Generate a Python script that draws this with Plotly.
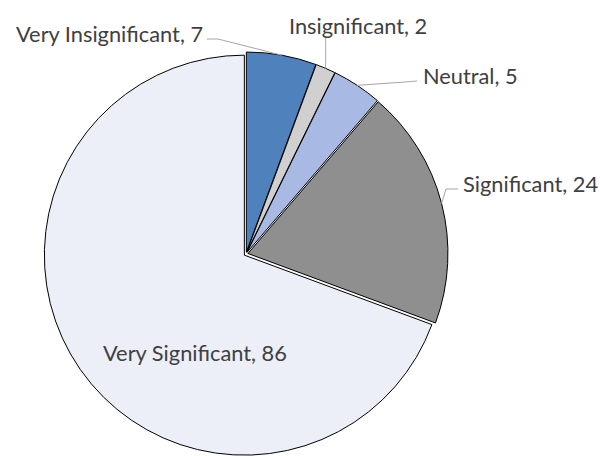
import math
import plotly.graph_objects as go

labels = ["Very Insignificant", "Insignificant", "Neutral", "Significant", "Very Significant"]
values = [7, 2, 5, 24, 86]
colors = ["#4F81BD", "#D0D0D0", "#A8B9E3", "#8F8F8F", "#ECEFF7"]

W, H = 600, 456
CX, CY, R = 246, 254, 200
PULL = 0.01
half = R * (1 + PULL)

def px(x):
    return x / W

def py(y):
    return 1 - y / H

fig = go.Figure(go.Pie(
    labels=labels, values=values, sort=False, direction="clockwise", rotation=0,
    marker=dict(colors=colors, line=dict(color="#000000", width=1)),
    textinfo="none", pull=[PULL] * len(values),
    domain=dict(x=[px(CX - half), px(CX + half)], y=[py(CY + half), py(CY - half)]),
    hoverinfo="label+value", showlegend=False,
))

# label placement (layout): text anchor and leader elbow points
label_pos = {
    "Very Insignificant": dict(x=205, y=33, xanchor="right", elbow=[(207, 39), (218, 39)]),
    "Insignificant": dict(x=287, y=26, xanchor="left", elbow="vertical", top=38),
    "Neutral": dict(x=421, y=75, xanchor="left", elbow=[(417, 81), (405, 82)]),
    "Significant": dict(x=461, y=183, xanchor="left", elbow=[(458, 189), (446, 189)]),
    "Very Significant": dict(x=195, y=352, xanchor="center", elbow=None),
}

total = sum(values)
cum = 0
font = dict(family="Lato, Calibri, sans-serif", size=21.8, color="#404040")
for lab, v in zip(labels, values):
    mid = (cum + v / 2) / total * 2 * math.pi
    cum += v
    rr = R * (1 + PULL)
    ex, ey = CX + rr * math.sin(mid), CY - rr * math.cos(mid)
    spec = label_pos[lab]
    fig.add_annotation(x=px(spec["x"]), y=py(spec["y"]), xref="paper", yref="paper",
                       text=f"{lab}, {v}", showarrow=False, xanchor=spec["xanchor"],
                       yanchor="middle", font=font)
    el = spec["elbow"]
    if el is None:
        continue
    if el == "vertical":
        pts = [(ex, spec["top"]), (ex, ey)]
    else:
        pts = list(el) + [(ex, ey)]
    path = "M " + " L ".join(f"{px(a):.5f},{py(b):.5f}" for a, b in pts)
    fig.add_shape(type="path", path=path, xref="paper", yref="paper",
                  line=dict(color="#A6A6A6", width=1))

fig.update_layout(width=W, height=H, margin=dict(l=0, r=0, t=0, b=0),
                  paper_bgcolor="white", plot_bgcolor="white")
fig.write_html("out.html", config={"displayModeBar": False},
               post_script="document.body.style.margin='0';document.body.style.overflow='hidden';")
